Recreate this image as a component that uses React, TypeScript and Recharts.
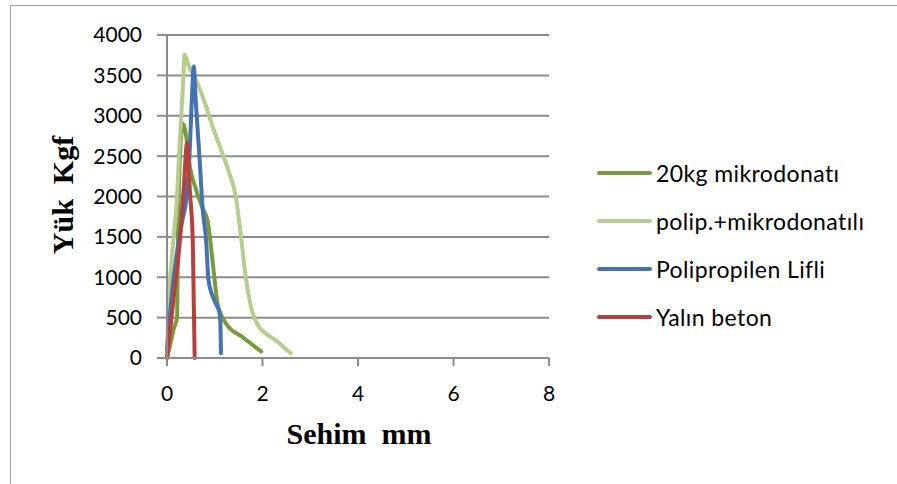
import React from 'react';
import { LineChart, Line, XAxis, YAxis, CartesianGrid, Label } from 'recharts';

const xTicks = [0, 2, 4, 6, 8];
const yTicks = [0, 500, 1000, 1500, 2000, 2500, 3000, 3500, 4000];

const mikroX = [0, 0.08, 0.15, 0.21, 0.22, 0.23, 0.25, 0.28, 0.33, 0.4, 0.47, 0.6, 0.75, 0.85, 0.96, 1.06, 1.24, 1.58, 1.97];
const mikroY = [0, 200, 380, 500, 900, 1500, 2100, 2600, 2900, 2750, 2400, 2100, 1850, 1700, 1170, 670, 425, 260, 83];

const polipMikroX = [0, 0.03, 0.08, 0.14, 0.2, 0.26, 0.33, 0.37, 0.45, 0.61, 0.8, 0.96, 1.15, 1.31, 1.44, 1.55, 1.65, 1.76, 1.93, 2.1, 2.28, 2.45, 2.59];
const polipMikroY = [0, 700, 1100, 1500, 1900, 2600, 3320, 3760, 3620, 3440, 3150, 2860, 2550, 2280, 2000, 1500, 1000, 630, 380, 290, 220, 130, 60];

const lifliX = [0, 0.05, 0.12, 0.22, 0.32, 0.41, 0.47, 0.52, 0.56, 0.6, 0.68, 0.75, 0.82, 0.87, 1.0, 1.1, 1.12, 1.13];
const lifliY = [100, 450, 900, 1350, 1700, 2000, 2490, 3200, 3610, 3200, 2490, 1830, 1450, 960, 700, 560, 400, 60];

const yalinX = [0, 0.14, 0.27, 0.35, 0.42, 0.48, 0.54, 0.56, 0.58];
const yalinY = [0, 750, 1450, 2100, 2660, 2050, 1450, 700, 0];

const zip = (xs: number[], ys: number[]) => xs.map((x, i) => ({ x, y: ys[i] }));

const series = [
  { name: '20kg mikrodonatı', color: '#7b9a3c', data: zip(mikroX, mikroY) },
  { name: 'polip.+mikrodonatılı', color: '#b5cd8d', data: zip(polipMikroX, polipMikroY) },
  { name: 'Polipropilen Lifli', color: '#4673b0', data: zip(lifliX, lifliY) },
  { name: 'Yalın beton', color: '#b3413e', data: zip(yalinX, yalinY) },
];

const font = 'Lato, "Open Sans", sans-serif';
const serif = '"Liberation Serif", "Times New Roman", serif';
const gridColor = '#8c8c8c';

export default function App() {
  return (
    <div style={{ position: 'absolute', left: 0, top: 0, width: 897, height: 484, background: '#fff', overflow: 'hidden' }}>
      <div style={{ position: 'absolute', left: 10, top: 5, width: 900, height: 500, border: '1px solid #a0a0a0' }} />
      <LineChart width={897} height={484} margin={{ top: 35, right: 348, left: 107, bottom: 66 }}>
        <CartesianGrid horizontal vertical={false} stroke={gridColor} strokeWidth={2} />
        <XAxis
          type="number"
          dataKey="x"
          domain={[0, 8]}
          ticks={xTicks}
          height={60}
          tickSize={8}
          tickMargin={20}
          axisLine={{ stroke: gridColor, strokeWidth: 2 }}
          tickLine={{ stroke: gridColor, strokeWidth: 2 }}
          tick={{ fill: '#000', fontSize: 21, fontFamily: font }}
        >
          <Label
            content={() => (
              <text x={359} y={444} textAnchor="middle" fontFamily={serif} fontWeight="bold" fontSize={30} fill="#000" style={{ whiteSpace: 'pre' }}>
                {'Sehim  mm'}
              </text>
            )}
          />
        </XAxis>
        <YAxis
          type="number"
          dataKey="y"
          domain={[0, 4000]}
          ticks={yTicks}
          width={60}
          tickSize={10}
          tickMargin={15}
          axisLine={{ stroke: gridColor, strokeWidth: 2 }}
          tickLine={{ stroke: gridColor, strokeWidth: 2 }}
          tick={{ fill: '#000', fontSize: 21, fontFamily: font }}
        >
          <Label
            content={() => (
              <text
                x={73}
                y={195}
                transform="rotate(-90, 73, 195)"
                textAnchor="middle"
                fontFamily={serif}
                fontWeight="bold"
                fontSize={30}
                fill="#000"
                style={{ whiteSpace: 'pre' }}
              >
                {'Yük  Kgf'}
              </text>
            )}
          />
        </YAxis>
        {series.map((s) => (
          <Line
            key={s.name}
            data={s.data}
            dataKey="y"
            name={s.name}
            type="monotone"
            stroke={s.color}
            strokeWidth={4}
            strokeLinecap="round"
            dot={false}
            activeDot={false}
            isAnimationActive={false}
          />
        ))}
      </LineChart>
      <div style={{ position: 'absolute', left: 597, top: 149, fontFamily: font, fontSize: 23, letterSpacing: 0.4, color: '#000' }}>
        {series.map((s) => (
          <div key={s.name} style={{ display: 'flex', alignItems: 'center', height: 48 }}>
            <div style={{ width: 55, height: 4, borderRadius: 2, background: s.color, marginRight: 4 }} />
            <span style={{ whiteSpace: 'pre' }}>{s.name}</span>
          </div>
        ))}
      </div>
    </div>
  );
}
